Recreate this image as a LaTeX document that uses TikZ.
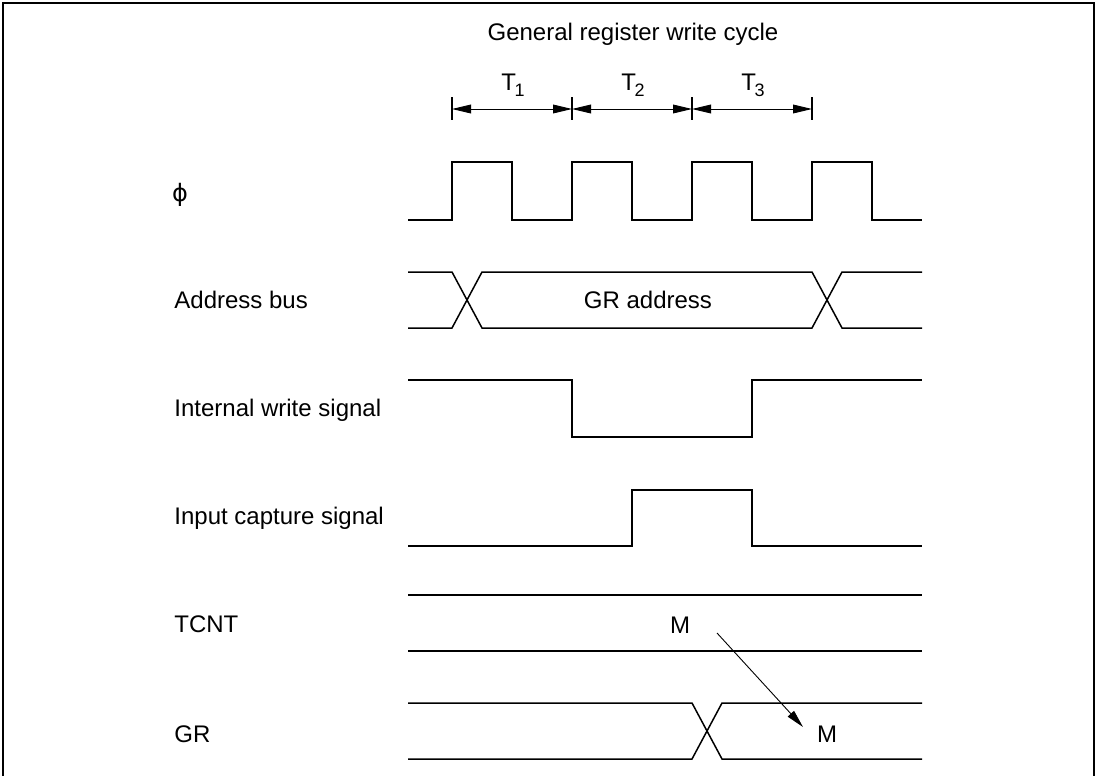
\documentclass[tikz,border=0pt]{standalone}
\usepackage{fontspec}
\setmainfont{Liberation Sans}
\newfontfamily\symfont{DejaVu Sans}
\usetikzlibrary{arrows.meta}
\newcommand\Tsub[1]{T\kern-0.8pt\raisebox{-3pt}{\fontsize{9}{9}\selectfont #1}}
\begin{document}
\begin{tikzpicture}[x=0.5pt,y=-0.5pt,
  sig/.style={line width=0.75pt, line join=miter},
  lbl/.style={inner sep=0pt, font=\fontsize{12}{14}\selectfont},
  dim/.style={line width=0.45pt, {Triangle[length=9.5pt,width=4.4pt]}-{Triangle[length=9.5pt,width=4.4pt]}},
  ticks/.style={line width=0.6pt},
  frame/.style={line width=1pt}]
\useasboundingbox (0,0) rectangle (1098,776);
\draw[frame] (3,790) -- (3,3) -- (1094,3) -- (1094,790);

% title and time intervals
\node[lbl, anchor=base] (title) at (633,40) {General register write cycle};
\foreach \x [count=\i] in {452,572,692,812} {
  \coordinate (t\i) at (\x,109);
  \draw[ticks] (\x,97) -- (\x,120);
}
\draw[dim] (t1) -- (t2);
\draw[dim] (t2) -- (t3);
\draw[dim] (t3) -- (t4);
\node[lbl, anchor=base] (T1) at (513,90) {\Tsub{1}};
\node[lbl, anchor=base] (T2) at (633,90) {\Tsub{2}};
\node[lbl, anchor=base] (T3) at (753,90) {\Tsub{3}};

% signal names
\node[lbl, anchor=center] (lphi) at (180,195) {\symfont ϕ};
\node[lbl, anchor=base west] (lbus) at (174,308) {Address bus};
\node[lbl, anchor=base west] (liw) at (174,416) {Internal write signal};
\node[lbl, anchor=base west] (lic) at (174,524) {Input capture signal};
\node[lbl, anchor=base west] (ltcnt) at (174,632) {TCNT};
\node[lbl, anchor=base west] (lgr) at (174,742) {GR};

% clock
\draw[sig] (408,220) -- (452,220) -- (452,162) -- (512,162) -- (512,220)
  -- (572,220) -- (572,162) -- (632,162) -- (632,220) -- (692,220)
  -- (692,162) -- (752,162) -- (752,220) -- (812,220) -- (812,162)
  -- (872,162) -- (872,220) -- (922,220);

% address bus
\draw[sig] (408,272) -- (452,272) -- (482,328) -- (812,328) -- (842,272) -- (922,272);
\draw[sig] (408,328) -- (452,328) -- (482,272) -- (812,272) -- (842,328) -- (922,328);
\node[lbl, anchor=base] (gra) at (648,308) {GR address};

% internal write signal
\draw[sig] (408,380) -- (572,380) -- (572,437) -- (752,437) -- (752,380) -- (922,380);

% input capture signal
\draw[sig] (408,546) -- (632,546) -- (632,490) -- (752,490) -- (752,546) -- (922,546);

% TCNT
\draw[sig] (408,595) -- (922,595);
\draw[sig] (408,651) -- (922,651);
\node[lbl, anchor=base] (m1) at (680,633) {M};

% GR
\draw[sig] (408,703) -- (692,703) -- (722,759) -- (922,759);
\draw[sig] (408,759) -- (692,759) -- (722,703) -- (922,703);
\node[lbl, anchor=base] (m2) at (827,742) {M};

% transfer arrow
\coordinate (mA) at (717,633);
\coordinate (mB) at (803,727);
\draw[line width=0.45pt, -{Triangle[length=9pt,width=4.2pt]}] (mA) -- (mB);
\end{tikzpicture}
\end{document}
